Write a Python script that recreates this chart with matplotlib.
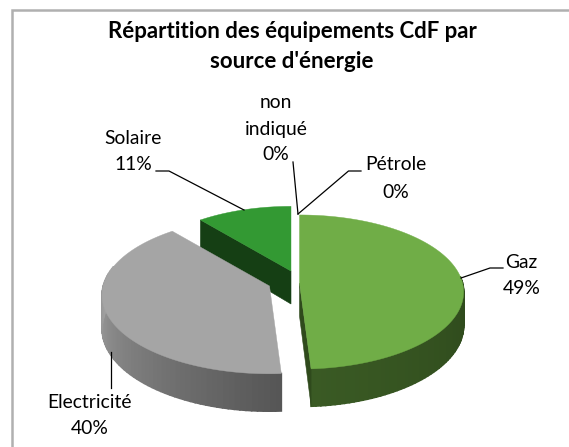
import numpy as np
import matplotlib
matplotlib.use("Agg")
import matplotlib.pyplot as plt
from matplotlib.patches import Polygon
from matplotlib.colors import to_rgb

title_lines = ["Répartition des équipements CdF par", "source d'énergie"]
categories = ["Gaz", "Electricité", "Solaire", "Pétrole", "non indiqué"]
shares = [49, 40, 11, 0, 0]

# Styling / layout (pixel space)
top_colors = ["#70AD47", "#A5A5A5", "#339933"]
apexes = [(299.5, 283), (269.5, 286), (291, 271)]
scales = [1.0, 1.02, 0.95]
R, A, K, DEPTH = 163, 76, 0.117, 33

plt.rcParams["font.family"] = ["Lato", "DejaVu Sans"]
fig = plt.figure(figsize=(5.69, 4.47), dpi=100, facecolor="white")
ax = fig.add_axes([0, 0, 1, 1])
ax.set_xlim(0, 569)
ax.set_ylim(447, 0)
ax.axis("off")


def project(theta, z, apex, s=1.0):
    t = np.radians(theta)
    x, y = np.sin(t), np.cos(t)
    d = 1 + K * y
    return np.column_stack([apex[0] + s * R * x / d, apex[1] - s * A * y / d + DEPTH * z / d])


def rim(t0, t1, apex, s, c0, c1, n=60):
    ts = np.linspace(t0, t1, n + 1)
    c0, c1 = np.array(to_rgb(c0)), np.array(to_rgb(c1))
    for i in range(n):
        seg = np.linspace(ts[i], ts[i + 1], 3)
        poly = np.vstack([project(seg, 0, apex, s), project(seg[::-1], 1, apex, s)])
        col = c0 + (c1 - c0) * i / (n - 1)
        ax.add_patch(Polygon(poly, closed=True, fc=col, ec=col, lw=1.2))


def end_wall(theta, apex, s, color):
    edge = project(np.array([theta]), 0, apex, s)[0]
    low = project(np.array([theta]), 1, apex, s)[0]
    a = np.array(apex, dtype=float)
    poly = [a, edge, low, a + [0, DEPTH]]
    ax.add_patch(Polygon(poly, closed=True, fc=color, ec=color, lw=0.4))


def top(t0, t1, apex, s, color):
    ts = np.linspace(t0, t1, 200)
    poly = np.vstack([[apex], project(ts, 0, apex, s)])
    ax.add_patch(Polygon(poly, closed=True, fc=color, ec=color, lw=0.3))


bounds = np.concatenate([[0], np.cumsum(shares)]) * 360.0 / sum(shares)

# Solaire (back), then Electricité, then Gaz
end_wall(bounds[2], apexes[2], scales[2], "#153F14")
top(bounds[2], bounds[3], apexes[2], scales[2], top_colors[2])

rim(bounds[1], 285, apexes[1], scales[1], "#565656", "#A6A6A6")
top(bounds[1], bounds[2], apexes[1], scales[1], top_colors[1])

rim(85, bounds[1], apexes[0], scales[0], "#2D481B", "#3A5A24")
end_wall(bounds[1], apexes[0], scales[0], "#2F4A1C")
top(bounds[0], bounds[1], apexes[0], scales[0], top_colors[0])

# Frame
ax.plot([12, 12, 569], [447, 10, 10], color="#B0B0B0", lw=1.8, solid_joinstyle="miter")

# Title
for line, y in zip(title_lines, [32, 62]):
    ax.text(292, y, line, ha="center", va="center", fontsize=16, fontweight="bold", color="black")

# Data labels
label_layout = {
    "Gaz": (521.5, [262], 288),
    "Electricité": (90, [403], 429),
    "Solaire": (133.5, [139], 165),
    "Pétrole": (396, [165], 192),
    "non indiqué": (276, [103, 129], 155),
}
for name, share in zip(categories, shares):
    x, ys, yp = label_layout[name]
    parts = name.split(" ")
    if len(ys) == 1:
        parts = [name]
    for p, y in zip(parts, ys):
        ax.text(x, y, p, ha="center", va="center", fontsize=13.9, color="black")
    ax.text(x, yp, f"{share}%", ha="center", va="center", fontsize=13.9, color="black")

# Leader lines
leaders = [
    ([156, 169, 244], [171, 171, 210]),
    ([293, 298], [162, 214]),
    ([361, 348.5, 298], [171, 171, 214]),
    ([503, 490, 461], [268, 268, 278]),
    ([111, 111], [388, 352]),
]
for xs, ys in leaders:
    ax.plot(xs, ys, color="black", lw=0.9)

fig.savefig("out.png", dpi=100, facecolor="white")
